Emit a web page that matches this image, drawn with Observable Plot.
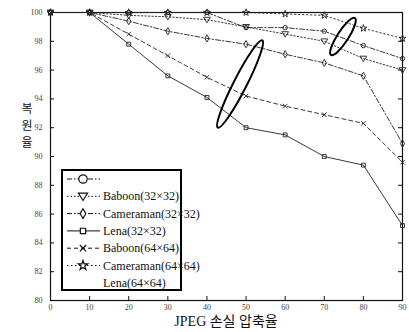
<!DOCTYPE html>
<html><head><meta charset="utf-8">
<script src="https://cdn.jsdelivr.net/npm/d3@7"></script>
<script src="https://cdn.jsdelivr.net/npm/@observablehq/plot@0.6"></script>
<style>body{margin:0;background:#fff}</style>
</head><body><div id="chart"></div>
<script>
const rates = [0,10,20,30,40,50,60,70,80,90];
const seriesNames = ["Baboon(32×32)","Cameraman(32×32)","Lena(32×32)","Baboon(64×64)","Cameraman(64×64)","Lena(64×64)"];
const baboon32    = [100,100,100,100,100,98.95,98.95,98.7,97.7,96.8];
const cameraman32 = [100,100,99.8,99.7,99.5,99.0,98.5,98.0,96.8,96.0];
const lena32      = [100,100,99.4,98.7,98.2,97.8,97.1,96.5,95.6,90.9];
const baboon64    = [100,100,97.8,95.6,94.1,92.0,91.5,90.0,89.4,85.2];
const cameraman64 = [100,100,98.5,97.0,95.5,94.2,93.5,92.9,92.3,89.6];
const lena64      = [100,100,100,100,100,100,99.9,99.8,98.9,98.2];
const yTicks = [80,82,84,86,88,90,92,94,96,98,100];
const xTicks = [0,10,20,30,40,50,60,70,80,90];
const xTitle = "JPEG 손실 압축율";
const yTitle = "복원율";

const triDown = {draw(ctx, size){ const r = Math.sqrt(size/1.3); ctx.moveTo(-r, -r*0.7); ctx.lineTo(r, -r*0.7); ctx.lineTo(0, r*0.9); ctx.closePath(); }};
const styles = [
  {dash:"5,2,1.5,2", symbol:"circle", plotSym: "circle"},
  {dash:"1.5,2", symbol: triDown, plotSym: triDown},
  {dash:"5,2,1.5,2", symbol:"diamond", plotSym:"diamond"},
  {dash:null, symbol:"square", plotSym:"square"},
  {dash:"4,3", symbol:"times", plotSym:"times"},
  {dash:"1.5,2.5", symbol:"star", plotSym:"star"}
];
const valuesList = [baboon32, cameraman32, lena32, baboon64, cameraman64, lena64];
const rows = [];
seriesNames.forEach((n,i)=> rates.forEach((r,j)=> rows.push({name:n, idx:i, rate:r, value:valuesList[i][j]})));

const marks = [];
seriesNames.forEach((n,i)=>{
  const d = rows.filter(r=>r.idx===i);
  marks.push(Plot.line(d, {x:"rate", y:"value", stroke:"#222", strokeWidth:0.9, strokeDasharray: styles[i].dash}));
  marks.push(Plot.dot(d, {x:"rate", y:"value", symbol: styles[i].plotSym, r:2.2, stroke:"#222", strokeWidth:0.9, fill: "none"}));
});

const plot = Plot.plot({
  width: 409, height: 332,
  marginLeft: 50, marginRight: 7, marginTop: 12, marginBottom: 32,
  style: {fontFamily: "Liberation Serif, serif", fontSize: "8px", color: "#444", background: "#fff"},
  x: {domain:[0,90], ticks: xTicks, label: null, tickSize: 0, tickPadding: 4},
  y: {domain:[80,100], ticks: yTicks, label: null, tickSize: 0, tickPadding: 8},
  marks: [
    Plot.frame({stroke:"#111", strokeWidth:1.2}),
    Plot.tickX(xTicks, {x: d=>d, insetTop: 284, stroke:"#111"}),
    Plot.tickY(yTicks, {y: d=>d, insetRight: 348, stroke:"#111"}),
    Plot.tickY(yTicks, {y: d=>d, insetLeft: 348, stroke:"#111"}),
    ...marks
  ]
});
document.getElementById("chart").appendChild(plot);

const svg = d3.select(plot);
const xs = plot.scale("x"), ys = plot.scale("y");

// annotation ellipses
function ellipse(xv, yv, rx, ry, ang){
  svg.append("ellipse").attr("cx",0).attr("cy",0).attr("rx",rx).attr("ry",ry)
    .attr("transform",`translate(${xs.apply(xv)},${ys.apply(yv)}) rotate(${ang})`)
    .attr("fill","none").attr("stroke","#000").attr("stroke-width",2);
}
ellipse(48.6, 95.0, 49, 6.5, -63);
ellipse(74.9, 98.3, 22, 5.5, -57);

// legend
const lg = svg.append("g").attr("font-family","Liberation Serif, serif").attr("font-size","12px").attr("fill","#111").attr("text-anchor","start");
const lx = 62, ly = 170, lw = 119, lh = 120, step = 17.3;
lg.append("rect").attr("x",lx).attr("y",ly).attr("width",lw).attr("height",lh).attr("fill","#fff").attr("stroke","#000").attr("stroke-width",2);
styles.forEach((s,i)=>{
  const y = ly + 9 + i*step;
  lg.append("line").attr("x1",lx+5).attr("x2",lx+38).attr("y1",y).attr("y2",y).attr("stroke","#111").attr("stroke-dasharray", s.dash);
  const sym = typeof s.symbol === "string" ? ({circle:d3.symbolCircle, diamond:d3.symbolDiamond, square:d3.symbolSquare, times:d3.symbolTimes, star:d3.symbolStar})[s.symbol] : s.symbol;
  lg.append("path").attr("d", d3.symbol(sym, i===0?55:28)()).attr("transform",`translate(${lx+21},${y})`)
    .attr("fill", "#fff").attr("stroke","#111").attr("stroke-width",1.2);
});
seriesNames.forEach((n,i)=>{
  lg.append("text").attr("x", lx+41).attr("y", ly + 9 + (i+1)*step + 4).attr("text-anchor","start").text(n);
});

// titles
svg.append("text").attr("x", 226).attr("y", 326).attr("text-anchor","middle")
  .attr("font-family","Liberation Serif, Noto Sans CJK KR, serif").attr("font-size","14px").attr("fill","#111").text(xTitle);
Array.from(yTitle).forEach((c,i)=>{
  svg.append("text").attr("x", 27).attr("y", 113 + i*17)
    .attr("font-family","Noto Sans CJK KR, sans-serif").attr("font-size","12px").attr("fill","#111")
    .attr("text-anchor","middle").attr("transform", null).text(c);
});
</script>
</body></html>
